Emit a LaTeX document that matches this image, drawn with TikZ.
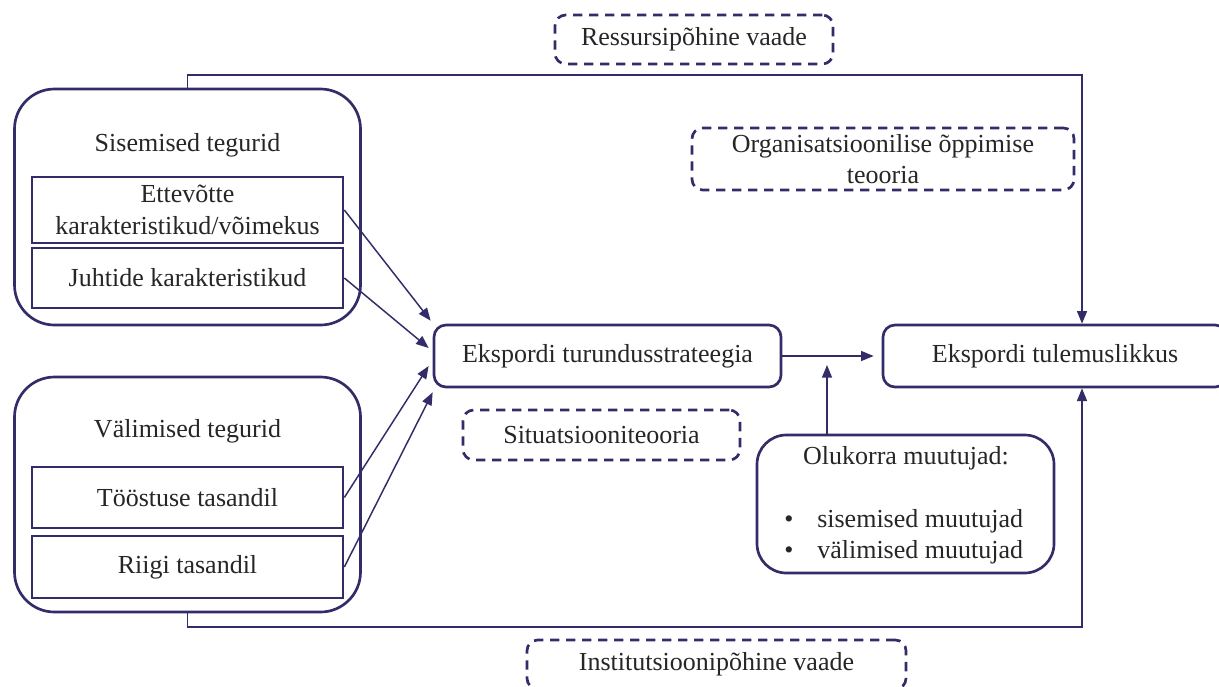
\documentclass[tikz,border=0pt]{standalone}
\usepackage{fontspec}
\setmainfont{Liberation Serif}
\usetikzlibrary{arrows.meta,calc}
\definecolor{navy}{RGB}{50,44,104}
\definecolor{txt}{RGB}{38,38,38}
\def\px{0.75pt}
\tikzset{
  lbl/.style={font=\fontsize{19.5}{23.5}\selectfont, text=txt, align=center, inner sep=0pt},
  outerbox/.style={draw=navy, line width=2pt, rounded corners=30pt, inner sep=0pt},
  innerbox/.style={draw=navy, line width=2pt, inner sep=0pt, font=\fontsize{19.5}{23.5}\selectfont, text=txt, align=center},
  mainbox/.style={draw=navy, line width=2pt, rounded corners=9pt, inner sep=0pt, font=\fontsize{19.5}{23.5}\selectfont, text=txt, align=center},
  theory/.style={draw=navy, line width=2pt, dash pattern=on 7pt off 5pt, rounded corners=8pt, inner sep=0pt, font=\fontsize{19.5}{23.5}\selectfont, text=txt, align=center},
  conn/.style={draw=navy, line width=1.1pt},
  arr/.style={conn, -{Triangle[length=9.5pt,width=7.5pt]}}
}
\begin{document}
\begin{tikzpicture}[x=0.75pt,y=-0.75pt]
\useasboundingbox (0,0) rectangle (1219,686);
\clip (0,0) rectangle (1219,686);
\fill[white] (0,0) rectangle (1219,686);

% left groups
\node[outerbox, minimum width=346*\px, minimum height=236*\px] (sis) at (187.5,207) {};
\node[lbl] (sisT) at (187.5,145) {Sisemised tegurid};
\node[innerbox, minimum width=311*\px, minimum height=66*\px] (ett) at (187.5,210) {Ettevõtte\\karakteristikud/võimekus};
\node[innerbox, minimum width=311*\px, minimum height=60*\px] (juh) at (187.5,278) {Juhtide karakteristikud};

\node[outerbox, minimum width=346*\px, minimum height=235*\px] (val) at (187.5,494.5) {};
\node[lbl] (valT) at (187.5,431) {Välimised tegurid};
\node[innerbox, minimum width=311*\px, minimum height=61*\px] (too) at (187.5,497.5) {Tööstuse tasandil};
\node[innerbox, minimum width=311*\px, minimum height=62*\px] (rii) at (187.5,567) {Riigi tasandil};

% main boxes
\node[mainbox, minimum width=347*\px, minimum height=62*\px] (strat) at (607.5,356) {Ekspordi turundusstrateegia};
\node[mainbox, minimum width=344*\px, minimum height=62*\px] (tul) at (1055,356) {Ekspordi tulemuslikkus};

% olukorra
\node[outerbox, rounded corners=22pt, minimum width=297*\px, minimum height=138*\px] (olu) at (905.5,504) {};
\node[lbl] (oluT) at (906,458) {Olukorra muutujad:};
\node[lbl, anchor=west, align=left] (oluL) at (784,537) {\makebox[24.75pt][l]{•}sisemised muutujad\\\makebox[24.75pt][l]{•}välimised muutujad};

% theories
\node[theory, minimum width=278*\px, minimum height=49*\px] (res) at (694,39.5) {Ressursipõhine vaade};
\node[theory, minimum width=382*\px, minimum height=62*\px] (org) at (883,159) {Organisatsioonilise õppimise\\teooria};
\node[theory, minimum width=277*\px, minimum height=50*\px] (sit) at (601.5,435) {Situatsiooniteooria};
\node[theory, minimum width=379*\px, minimum height=49*\px] (ins) at (716.5,664.5) {Institutsioonipõhine vaade};

% frame connectors
\coordinate (tr) at (1082,75);
\coordinate (br) at (1082,627);
\coordinate (mid) at (827,365);
\draw[arr] (sis.north) -- (sis.north |- tr) -- (tr) -- (tr |- tul.north);
\draw[arr] (val.south) -- (val.south |- br) -- (br) -- (br |- tul.south);

% arrows into strategy
\draw[arr] (ett.east) -- ([shift={(-2,-3)}]strat.north west);
\draw[arr] (juh.east) -- ([shift={(-4,-8)}]strat.west);
\draw[arr] (too.east) -- ([shift={(-4,10)}]strat.west);
\draw[arr] (rii.east) -- ([shift={(0,4)}]strat.south west);

% strategy to performance
\draw[arr] (strat.east) -- ([xshift=-6]tul.west);
\draw[arr] (olu.north -| mid) -- (mid);
\end{tikzpicture}
\end{document}
